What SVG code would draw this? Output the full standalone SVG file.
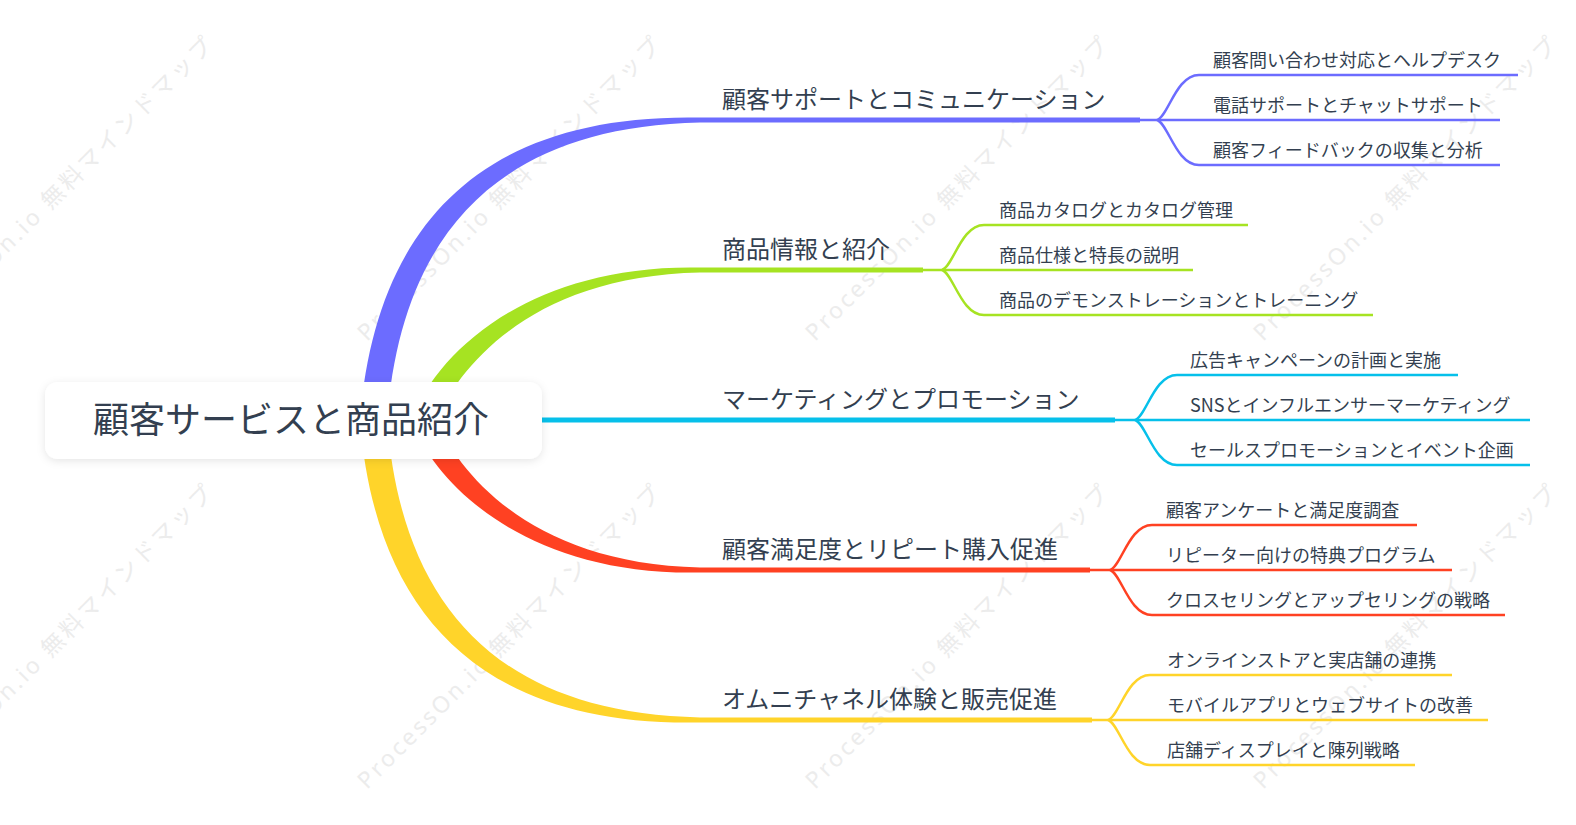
<svg xmlns="http://www.w3.org/2000/svg" width="1576" height="825" viewBox="0 0 1576 825">
<style>
.wm{font-family:"Noto Sans","Noto Sans CJK JP",sans-serif;font-size:23px;letter-spacing:3px;fill:#ececec}
.root{font-family:"Noto Sans CJK JP",sans-serif;font-size:36px;fill:#333f50}
.main{font-family:"Noto Sans CJK JP",sans-serif;font-size:24px;fill:#333f50}
.sub{font-family:"Noto Sans CJK JP",sans-serif;font-size:18px;fill:#333f50}
.s{fill:none;stroke-width:2.5}
.blue{stroke:#6c6cff}.green{stroke:#a6e322}.cyan{stroke:#06c0ea}.red{stroke:#ff4122}.yellow{stroke:#ffd42a}
</style>
<defs>
<filter id="sh" x="-10%" y="-30%" width="120%" height="160%">
<feDropShadow dx="0" dy="2" stdDeviation="4" flood-color="#000" flood-opacity="0.10"/>
</filter>
</defs>
<rect width="1576" height="825" fill="#ffffff"/>
<g id="watermarks">
<text class="wm" transform="translate(-81,342) rotate(-45)">ProcessOn.io 無料マインドマップ</text>
<text class="wm" transform="translate(367,342) rotate(-45)">ProcessOn.io 無料マインドマップ</text>
<text class="wm" transform="translate(815,342) rotate(-45)">ProcessOn.io 無料マインドマップ</text>
<text class="wm" transform="translate(1263,342) rotate(-45)">ProcessOn.io 無料マインドマップ</text>
<text class="wm" transform="translate(-81,790) rotate(-45)">ProcessOn.io 無料マインドマップ</text>
<text class="wm" transform="translate(367,790) rotate(-45)">ProcessOn.io 無料マインドマップ</text>
<text class="wm" transform="translate(815,790) rotate(-45)">ProcessOn.io 無料マインドマップ</text>
<text class="wm" transform="translate(1263,790) rotate(-45)">ProcessOn.io 無料マインドマップ</text>
</g>
<g id="connectors">
<path fill="#6c6cff" d="M360,419 C375,234 473,113 700,117.5 L1140,117.5 L1140,122.5 L700,122.5 C487,127 400,246 387,421 Z"/>
<path fill="#a6e322" d="M413,415.8 C437,355 527,264 700,267.5 L923,267.5 L923,272.5 L700,272.5 C533,276 459,365 434,424.2 Z"/>
<rect x="500" y="417.5" width="615" height="5" fill="#06c0ea"/>
<path fill="#ff4122" d="M413,424.2 C437,485 527,576 700,572.5 L1090,572.5 L1090,567.5 L700,567.5 C533,564 459,475 434,415.8 Z"/>
<path fill="#ffd42a" d="M360,421 C375,606 473,727 700,722.5 L1092,722.5 L1092,717.5 L700,717.5 C487,713 400,594 387,419 Z"/>

<path class="s blue" d="M1157,120 C1168,117 1176,75 1199,75 H1518"/>
<path class="s blue" d="M1138,120 H1500"/>
<path class="s blue" d="M1157,120 C1168,123 1176,165 1199,165 H1500"/>

<path class="s green" d="M942,270 C953,267 961,225 984,225 H1248"/>
<path class="s green" d="M921,270 H1193"/>
<path class="s green" d="M942,270 C953,273 961,315 984,315 H1373"/>

<path class="s cyan" d="M1135,420 C1146,417 1154,375 1177,375 H1458"/>
<path class="s cyan" d="M1113,420 H1530"/>
<path class="s cyan" d="M1135,420 C1146,423 1154,465 1177,465 H1530"/>

<path class="s red" d="M1110,570 C1121,567 1129,525 1152,525 H1417"/>
<path class="s red" d="M1088,570 H1452"/>
<path class="s red" d="M1110,570 C1121,573 1129,615 1152,615 H1505"/>

<path class="s yellow" d="M1108,720 C1119,717 1127,675 1150,675 H1452"/>
<path class="s yellow" d="M1090,720 H1488"/>
<path class="s yellow" d="M1108,720 C1119,723 1127,765 1150,765 H1415"/>
</g>
<g id="root">
<rect x="45" y="382" width="497" height="77" rx="13" fill="#ffffff" filter="url(#sh)"/>
<text class="root" x="291" y="433" text-anchor="middle">顧客サービスと商品紹介</text>
</g>
<g id="n1"><text class="main" x="722" y="108">顧客サポートとコミュニケーション</text></g>
<g id="n1a"><text class="sub" x="1213" y="67">顧客問い合わせ対応とヘルプデスク</text></g>
<g id="n1b"><text class="sub" x="1213" y="112">電話サポートとチャットサポート</text></g>
<g id="n1c"><text class="sub" x="1213" y="157">顧客フィードバックの収集と分析</text></g>

<g id="n2"><text class="main" x="722" y="258">商品情報と紹介</text></g>
<g id="n2a"><text class="sub" x="999" y="217">商品カタログとカタログ管理</text></g>
<g id="n2b"><text class="sub" x="999" y="262">商品仕様と特長の説明</text></g>
<g id="n2c"><text class="sub" x="999" y="307">商品のデモンストレーションとトレーニング</text></g>

<g id="n3"><text class="main" x="722" y="408">マーケティングとプロモーション</text></g>
<g id="n3a"><text class="sub" x="1190" y="367">広告キャンペーンの計画と実施</text></g>
<g id="n3b"><text class="sub" x="1190" y="412">SNSとインフルエンサーマーケティング</text></g>
<g id="n3c"><text class="sub" x="1190" y="457">セールスプロモーションとイベント企画</text></g>

<g id="n4"><text class="main" x="722" y="558">顧客満足度とリピート購入促進</text></g>
<g id="n4a"><text class="sub" x="1166" y="517">顧客アンケートと満足度調査</text></g>
<g id="n4b"><text class="sub" x="1166" y="562">リピーター向けの特典プログラム</text></g>
<g id="n4c"><text class="sub" x="1166" y="607">クロスセリングとアップセリングの戦略</text></g>

<g id="n5"><text class="main" x="722" y="708">オムニチャネル体験と販売促進</text></g>
<g id="n5a"><text class="sub" x="1167" y="667">オンラインストアと実店舗の連携</text></g>
<g id="n5b"><text class="sub" x="1167" y="712">モバイルアプリとウェブサイトの改善</text></g>
<g id="n5c"><text class="sub" x="1167" y="757">店舗ディスプレイと陳列戦略</text></g>
</svg>
